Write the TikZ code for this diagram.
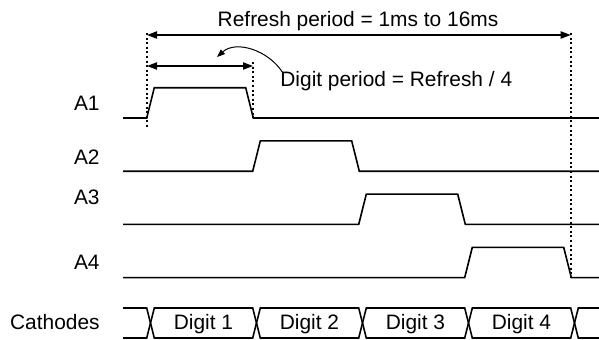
\documentclass[tikz,border=0pt]{standalone}
\usepackage{fontspec}
\setmainfont{Liberation Sans}
\usetikzlibrary{arrows.meta}

\begin{document}
\begin{tikzpicture}[x=0.5pt,y=-0.5pt,
    sig/.style={line width=0.8pt,line join=miter},
    guide/.style={line width=0.8pt,dash pattern=on 1pt off 1.3pt},
    dim/.style={{Triangle[length=5pt,width=3.6pt]}-{Triangle[length=5pt,width=3.6pt]},
      line width=0.7pt},
    lbl/.style={inner sep=0pt,font=\fontsize{10.45}{12}\selectfont}
  ]
  \useasboundingbox (0,0) rectangle (599,339);
  % anode strobes
  \foreach \k/\name/\ly in {0/A1/110.5,1/A2/164.5,2/A3/204,3/A4/269}{
    \pgfmathsetmacro\ylo{118+53.2*\k}
    \pgfmathsetmacro\yhi{\ylo-30.3}
    \pgfmathsetmacro\xr{146.7+106*\k}
    \node[lbl,anchor=base east] (lab\name) at (100,\ly) {\name};
    \draw[sig] (123,\ylo) -- (\xr,\ylo) -- (\xr+7.6,\yhi) -- (\xr+99,\yhi)
      -- (\xr+106.6,\ylo) -- (599,\ylo);
  }
  % cathode bus
  \node[lbl,anchor=base east] (labC) at (100,329) {Cathodes};
  \draw[sig] (123,308) -- (146.7,308) -- (150.5,323) -- (146.7,338) -- (123,338);
  \foreach \k in {0,...,3}{
    \pgfmathsetmacro\xc{150.5+106*\k}
    \draw[sig] (\xc,323) -- (\xc+3.8,308) -- (\xc+102.2,308) -- (\xc+106,323)
      -- (\xc+102.2,338) -- (\xc+3.8,338) -- cycle;
    \pgfmathtruncatemacro\dn{\k+1}
    \node[lbl,anchor=base] (dig\dn) at (\xc+53,329) {Digit \dn};
  }
  \draw[sig] (599,308) -- (578.3,308) -- (574.5,323) -- (578.3,338) -- (599,338);
  % timing marks
  \coordinate (rL) at (147,35);
  \coordinate (rR) at (570.7,35);
  \coordinate (dL) at (147,66);
  \coordinate (dR) at (253,66);
  \draw[guide] (147,33) -- (147,127);
  \draw[guide] (253,62) -- (253,118);
  \draw[guide] (570.7,33) -- (570.7,278);
  \draw[dim] (rL) -- (rR);
  \draw[dim] (dL) -- (dR);
  \node[lbl,anchor=base] (rtxt) at (358,26.7) {Refresh period = 1ms to 16ms};
  \node[lbl,anchor=base west] (dtxt) at (280,86.7) {Digit period = Refresh / 4};
  \coordinate (dTip) at (217,57);
  \draw[-{Triangle[length=4pt,width=3pt]},line width=0.5pt]
    ([xshift=1.2pt,yshift=-0.5pt]dtxt.north west) .. controls (268,50) and (236,40) .. (dTip);
\end{tikzpicture}
\end{document}
